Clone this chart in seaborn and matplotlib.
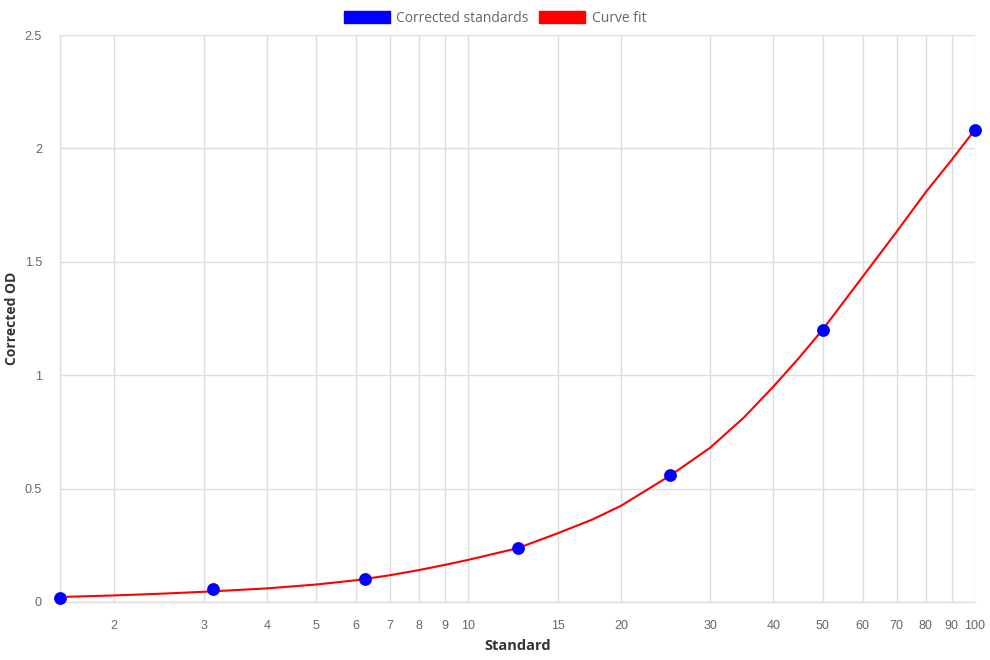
import numpy as np
import pandas as pd
import matplotlib
matplotlib.use('Agg')
import matplotlib.pyplot as plt
import seaborn as sns
from matplotlib.patches import Patch

# --- Data ---
std_conc = [1.5625, 3.125, 6.25, 12.5, 25, 50, 100]
std_od = [0.016, 0.057, 0.102, 0.236, 0.558, 1.200, 2.083]

fit_conc = [1.5625, 2, 2.5, 3, 3.125, 4, 5, 6, 7, 8, 9, 10, 12.5, 15, 17.5, 20,
            25, 30, 35, 40, 45, 50, 60, 70, 80, 90, 100]
fit_od = [0.022, 0.029, 0.037, 0.045, 0.047, 0.060, 0.077, 0.096, 0.118, 0.141,
          0.164, 0.186, 0.237, 0.303, 0.362, 0.424, 0.557, 0.680, 0.814, 0.950,
          1.078, 1.200, 1.434, 1.632, 1.808, 1.950, 2.083]

tick_vals = [2, 3, 4, 5, 6, 7, 8, 9, 10, 15, 20, 30, 40, 50, 60, 70, 80, 90, 100]
y_ticks = [0, 0.5, 1, 1.5, 2, 2.5]
y_labels = ['0', '0.5', '1', '1.5', '2', '2.5']

pts = pd.DataFrame({'Standard': std_conc, 'Corrected OD': std_od})
fit = pd.DataFrame({'Standard': fit_conc, 'Corrected OD': fit_od})

# --- Style ---
sns.set_style('white')
plt.rcParams['font.family'] = ['Liberation Sans', 'DejaVu Sans']

grid_col = '#dddddd'
text_col = '#666666'
title_font = ['Open Sans', 'DejaVu Sans']

fig = plt.figure(figsize=(9.9, 6.6), dpi=100)
ax = fig.add_axes([60 / 990, 58 / 660, 915 / 990, 567 / 660])

sns.lineplot(data=fit, x='Standard', y='Corrected OD', color='#ff0000',
             linewidth=1.5, ax=ax, zorder=2)
sns.scatterplot(data=pts, x='Standard', y='Corrected OD', color='#0000ff',
                s=85, edgecolor='#0000ff', linewidth=0, ax=ax, zorder=3, clip_on=False)

ax.set_xscale('log')
ax.set_xlim(1.5625, 100)
ax.set_ylim(0, 2.5)
ax.minorticks_off()
ax.set_xticks(tick_vals)
ax.set_xticklabels([str(v) for v in tick_vals])
ax.set_yticks(y_ticks)
ax.set_yticklabels(y_labels)

ax.grid(True, color=grid_col, linewidth=1)
ax.set_axisbelow(True)
for side in ['top', 'right']:
    ax.spines[side].set_visible(False)
for side in ['left', 'bottom']:
    ax.spines[side].set_color(grid_col)
    ax.spines[side].set_linewidth(1)

ax.tick_params(axis='both', length=7, width=1, color=grid_col, labelcolor=text_col,
               labelsize=9, pad=6)

ax.set_xlabel('Standard', fontsize=10.5, fontweight='bold', color='#333333',
              family=title_font)
ax.set_ylabel('Corrected OD', fontsize=10, fontweight='bold', color='#333333',
              family=title_font, va='center')
ax.xaxis.set_label_coords(0.5, -0.066)
ax.yaxis.set_label_coords(-0.052, 0.5)

handles = [Patch(facecolor='#0000ff', edgecolor='#0000ff', label='Corrected standards'),
           Patch(facecolor='#ff0000', edgecolor='#ff0000', label='Curve fit')]
fig.legend(handles=handles, loc='upper center', bbox_to_anchor=(0.5, 1.003), ncol=2,
           frameon=False, handlelength=3.3, handleheight=0.95, handletextpad=0.45,
           columnspacing=0.8, prop={'family': title_font, 'size': 10},
           labelcolor=text_col)

fig.savefig('out.png', dpi=100)
